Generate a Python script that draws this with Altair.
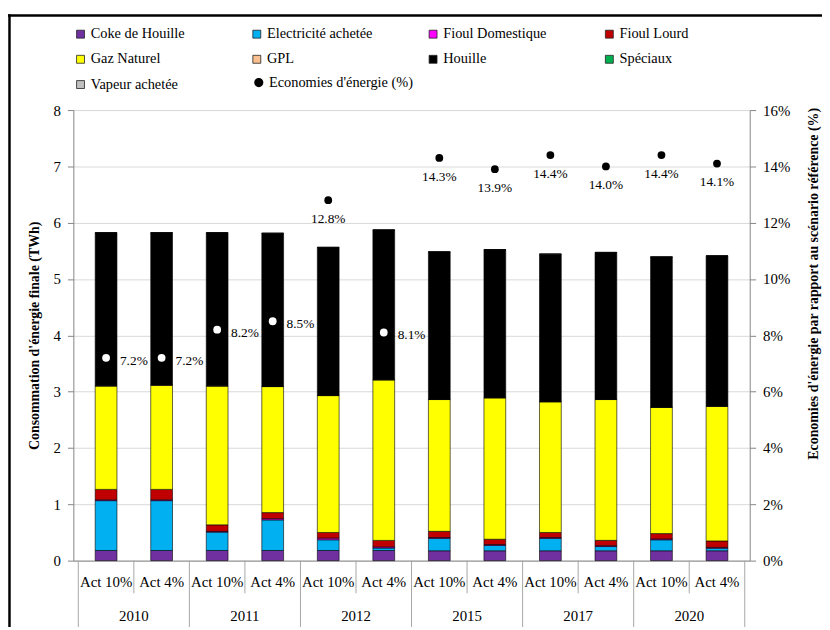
import altair as alt
import pandas as pd

FONT = "Liberation Serif"

years = ["2010", "2011", "2012", "2015", "2017", "2020"]
scenarios = ["Act 10%", "Act 4%"]

categories = ["Coke de Houille", "Electricité achetée", "Fioul Domestique", "Fioul Lourd",
              "Gaz Naturel", "GPL", "Houille", "Spéciaux", "Vapeur achetée"]
colors = ["#7030A0", "#00B0F0", "#FF00FF", "#C00000", "#FFFF00", "#FAC090",
          "#000000", "#00B050", "#BFBFBF"]

# values in TWh, one per bar (2010 Act10, 2010 Act4, 2011 Act10, ...)
coke     = [0.18, 0.18, 0.18, 0.18, 0.18, 0.18, 0.175, 0.175, 0.175, 0.175, 0.175, 0.175]
elec     = [0.885, 0.885, 0.326, 0.543, 0.19, 0.044, 0.22, 0.095, 0.22, 0.075, 0.195, 0.045]
fioul_d  = [0.015, 0.015, 0.014, 0.022, 0.03, 0.02, 0.015, 0.015, 0.015, 0.015, 0.015, 0.015]
fioul_l  = [0.185, 0.185, 0.115, 0.108, 0.10, 0.115, 0.11, 0.095, 0.09, 0.095, 0.095, 0.115]
gaz      = [1.835, 1.845, 2.465, 2.237, 2.43, 2.85, 2.34, 2.51, 2.32, 2.50, 2.24, 2.39]
gpl      = [0.005, 0.01, 0.003, 0.003, 0.003, 0.003, 0.003, 0.003, 0.003, 0.003, 0.003, 0.003]
houille  = [2.715, 2.70, 2.717, 2.717, 2.627, 2.657, 2.617, 2.627, 2.617, 2.607, 2.667, 2.667]
speciaux = [0.002] * 12
vapeur   = [0.002] * 12

# energy savings vs reference scenario (%)
savings = [7.2, 7.2, 8.2, 8.5, 12.8, 8.1, 14.3, 13.9, 14.4, 14.0, 14.4, 14.1]
savings_label = "Economies d'énergie (%)"

series = dict(zip(categories, [coke, elec, fioul_d, fioul_l, gaz, gpl, houille, speciaux, vapeur]))
n = len(savings)
bar_scen = [s for _ in years for s in scenarios]

rows = []
for i in range(n):
    for k, c in enumerate(categories):
        rows.append({"i": i, "cat": c, "ord": k, "val": series[c][i]})
df_bars = pd.DataFrame(rows)
totals = df_bars.groupby("i")["val"].sum()

df_pts = pd.DataFrame({
    "i": list(range(n)),
    "sav": [s / 100 for s in savings],
    "serie": [savings_label] * n,
})
df_pts["inside"] = [savings[i] / 2 < totals[i] for i in range(n)]
df_pts["ptcol"] = ["white" if v else "black" for v in df_pts["inside"]]

df_scen = pd.DataFrame({"i": list(range(n)), "scen": bar_scen})
df_years = pd.DataFrame({"pos": [2 * j + 0.5 for j in range(len(years))], "year": years})
df_sep_scen = pd.DataFrame({"pos": [2 * j + 0.5 for j in range(len(years))]})
df_sep_year = pd.DataFrame({"pos": [2 * j - 0.5 for j in range(len(years) + 1)]})
one = pd.DataFrame({"k": [0]})

W, H = 683, 455
BOT = 67
xscale = alt.Scale(domain=[-0.5, n - 0.5], nice=False, zero=False)
AX = "#868686"

bars = alt.Chart(df_bars).mark_bar(size=22, stroke="black", strokeWidth=0.6).encode(
    x=alt.X("i:Q", scale=xscale,
            axis=alt.Axis(labels=False, ticks=False, grid=False, title=None, domainColor=AX)),
    y=alt.Y("val:Q", stack="zero", scale=alt.Scale(domain=[0, 8], nice=False),
            axis=alt.Axis(values=list(range(9)), tickSize=6, labelPadding=7, labelFontSize=15,
                          grid=True, gridColor="#D9D9D9", domainColor=AX, tickColor=AX,
                          title="Consommation d'énergie finale (TWh)", titleFontSize=14,
                          titleFontWeight="bold", titleAngle=270, titleX=-39, titleY=H / 2,
                          titleAlign="center", titleBaseline="middle")),
    color=alt.Color("cat:N", scale=alt.Scale(domain=categories, range=colors),
                    legend=alt.Legend(orient="none", legendX=0, legendY=-84, columns=4,
                                      direction="horizontal",
                                      title=None, symbolType="square", symbolSize=64,
                                      symbolStrokeColor="#222", symbolStrokeWidth=0.8,
                                      labelFont=FONT, labelFontSize=14.5, labelOffset=3,
                                      gridAlign="all", columnPadding=53, rowPadding=10.5,
                                      padding=0)),
    order=alt.Order("ord:Q", sort="ascending"),
)

scen_txt = alt.Chart(df_scen).mark_text(font=FONT, fontSize=15, baseline="middle").encode(
    x=alt.X("i:Q", scale=xscale), y=alt.value(H + 22), text="scen:N")
year_txt = alt.Chart(df_years).mark_text(font=FONT, fontSize=15, baseline="middle").encode(
    x=alt.X("pos:Q", scale=xscale), y=alt.value(H + 56), text="year:N")
sep_scen = alt.Chart(df_sep_scen).mark_rule(color="#A6A6A6", strokeWidth=1).encode(
    x=alt.X("pos:Q", scale=xscale), y=alt.value(H), y2=alt.value(H + 33))
sep_year = alt.Chart(df_sep_year).mark_rule(color="#A6A6A6", strokeWidth=1).encode(
    x=alt.X("pos:Q", scale=xscale), y=alt.value(H), y2=alt.value(H + BOT))

frame_top = alt.Chart(one).mark_rule(color="black", strokeWidth=2.5).encode(
    x=alt.value(-66), x2=alt.value(W + 73), y=alt.value(-95.5))
frame_left = alt.Chart(one).mark_rule(color="black", strokeWidth=2.5).encode(
    x=alt.value(-64.5), y=alt.value(-96.7), y2=alt.value(H + BOT))

yr = alt.Scale(domain=[0, 0.16], nice=False)
pts = alt.Chart(df_pts).mark_point(filled=True, size=62, opacity=1, strokeWidth=0).encode(
    x=alt.X("i:Q", scale=xscale),
    y=alt.Y("sav:Q", scale=yr,
            axis=alt.Axis(orient="right", values=[v / 100 for v in range(0, 17, 2)], format=".0%",
                          tickSize=6, labelPadding=7, labelFontSize=15, grid=False,
                          domainColor=AX, tickColor=AX,
                          title="Economies d'énergie par rapport au scénario référence (%)",
                          titleFontSize=14, titleFontWeight="bold", titleAngle=270,
                          titleX=64, titleY=175, titleAlign="center", titleBaseline="middle")),
    fill=alt.Fill("ptcol:N", scale=None),
    shape=alt.Shape("serie:N", scale=alt.Scale(domain=[savings_label], range=["circle"]),
                    legend=alt.Legend(orient="none", legendX=180, legendY=-35, title=None,
                                      symbolType="circle", symbolSize=60,
                                      symbolFillColor="black", symbolStrokeColor="black",
                                      labelFont=FONT, labelFontSize=14.5, labelOffset=3,
                                      padding=0)),
)
txt_in = alt.Chart(df_pts).transform_filter("datum.inside").mark_text(
    font=FONT, fontSize=13.5, align="left", dx=14, dy=3, baseline="middle").encode(
    x=alt.X("i:Q", scale=xscale), y=alt.Y("sav:Q", scale=yr),
    text=alt.Text("sav:Q", format=".1%"))
txt_out = alt.Chart(df_pts).transform_filter("!datum.inside").mark_text(
    font=FONT, fontSize=13.5, align="center", dy=19, baseline="middle").encode(
    x=alt.X("i:Q", scale=xscale), y=alt.Y("sav:Q", scale=yr),
    text=alt.Text("sav:Q", format=".1%"))

left = alt.layer(bars, sep_scen, sep_year, scen_txt, year_txt, frame_top, frame_left)
right = alt.layer(pts, txt_in, txt_out)

chart = alt.layer(left, right).resolve_scale(y="independent").properties(
    width=W, height=H,
    autosize=alt.AutoSizeParams(type="none"),
    padding={"left": 66, "top": 100, "right": 73, "bottom": BOT},
).configure(font=FONT).configure_view(strokeWidth=0).configure_axis(
    labelFont=FONT, titleFont=FONT, labelColor="black", titleColor="black"
).configure_legend(labelFont=FONT, labelColor="black")

chart.save("out.html", embed_options={"renderer": "svg", "actions": False})
